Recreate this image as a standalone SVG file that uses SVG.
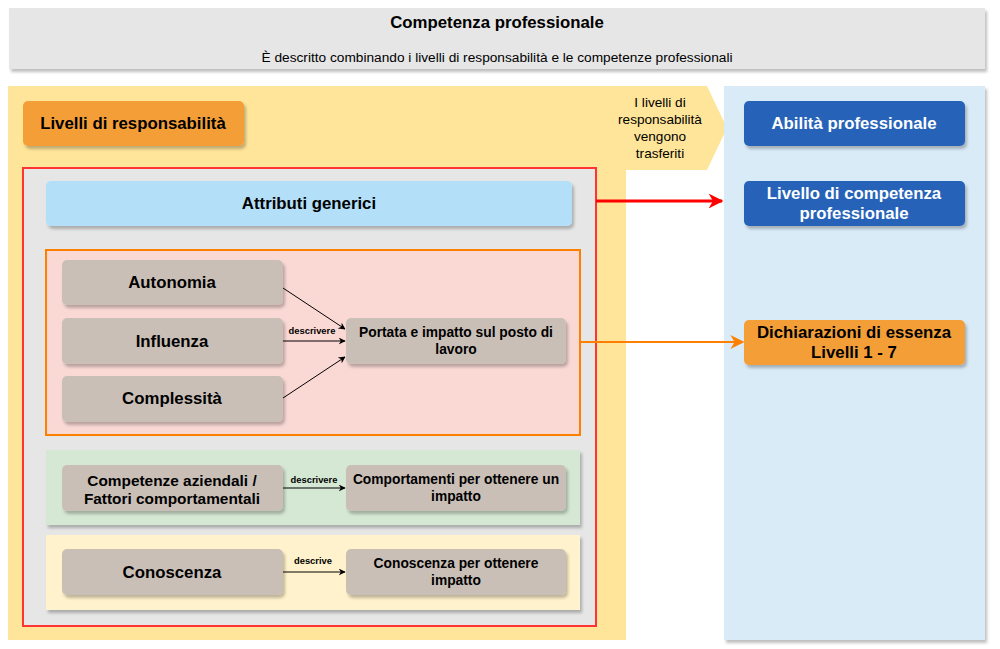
<svg xmlns="http://www.w3.org/2000/svg" width="1000" height="649" viewBox="0 0 1000 649">
<defs>
<filter id="sh" x="-10%" y="-10%" width="130%" height="140%">
<feDropShadow dx="2" dy="3" stdDeviation="1.5" flood-color="#000" flood-opacity="0.25"/>
</filter>
<marker id="ab" viewBox="0 0 10 10" refX="9" refY="5" markerWidth="7" markerHeight="7" orient="auto" markerUnits="userSpaceOnUse"><path d="M0,0 L10,5 L0,10 L3,5 Z" fill="#000"/></marker>
<marker id="ar" viewBox="0 0 10 10" refX="9" refY="5" markerWidth="15" markerHeight="15" orient="auto" markerUnits="userSpaceOnUse"><path d="M0,0 L10,5 L0,10 L3,5 Z" fill="#FF0000"/></marker>
<marker id="ao" viewBox="0 0 10 10" refX="9" refY="5" markerWidth="14" markerHeight="14" orient="auto" markerUnits="userSpaceOnUse"><path d="M0,0 L10,5 L0,10 L3,5 Z" fill="#FF8000"/></marker>
</defs>
<style>
text{font-family:"Liberation Sans",Arial,sans-serif;text-anchor:middle;fill:#000}
.b{font-weight:bold}
.node{fill:#CABFB7;filter:url(#sh)}
.n16{font-size:16.8px;font-weight:bold}
.n15{font-size:15.4px;font-weight:bold}
.n13{font-size:13.8px;font-weight:bold}
.lbl{font-size:9.4px;font-weight:bold}
.w{fill:#fff}
.thin{stroke:#000;stroke-width:1;fill:none;marker-end:url(#ab)}
</style>
<rect width="1000" height="649" fill="#fff"/>

<g id="header">
<rect x="9" y="8" width="976" height="61" fill="#E6E6E6" filter="url(#sh)"/>
<text x="497" y="28" class="b" font-size="16.8">Competenza professionale</text>
<text x="497" y="62" font-size="13.7">È descritto combinando i livelli di responsabilità e le competenze professionali</text>
</g>

<g id="responsibility-area">
<path d="M8,86 L707,86 L727,128 L707,170 L626,170 L626,640 L8,640 Z" fill="#FFE599"/>
<text x="660" y="107" font-size="13.6">I livelli di</text>
<text x="660" y="124" font-size="13.6">responsabilità</text>
<text x="660" y="141" font-size="13.6">vengono</text>
<text x="660" y="158" font-size="13.6">trasferiti</text>
</g>

<g id="skills-area">
<rect x="724" y="86" width="261" height="554" fill="#DAEBF8" filter="url(#sh)"/>
</g>

<g id="livelli-responsabilita">
<rect x="23" y="101" width="221" height="45" rx="5" fill="#F49E38" filter="url(#sh)"/>
<text x="133" y="129" class="n16">Livelli di responsabilità</text>
</g>

<g id="attributes-container">
<rect x="23" y="168" width="573" height="458" fill="#E6E6E6" stroke="#FF3333" stroke-width="2"/>
</g>

<g id="attributi-generici">
<rect x="46" y="181" width="526" height="45" rx="5" fill="#B4DFF8" filter="url(#sh)"/>
<text x="309" y="209" class="n16">Attributi generici</text>
</g>

<g id="impact-group">
<rect x="46" y="250" width="534" height="185" fill="#FAD9D5" stroke="#FF8000" stroke-width="2"/>
</g>

<g id="autonomia">
<rect x="62" y="260" width="221" height="45" rx="5" class="node"/>
<text x="172" y="288" class="n16">Autonomia</text>
</g>
<g id="influenza">
<rect x="62" y="318" width="221" height="46" rx="5" class="node"/>
<text x="172" y="347" class="n16">Influenza</text>
</g>
<g id="complessita">
<rect x="62" y="376" width="221" height="46" rx="5" class="node"/>
<text x="172" y="404" class="n16">Complessità</text>
</g>
<g id="portata">
<rect x="346" y="318" width="220" height="46" rx="5" class="node"/>
<text x="456" y="337" class="n13">Portata e impatto sul posto di</text>
<text x="456" y="354" class="n13">lavoro</text>
</g>

<g id="behaviour-group">
<rect x="46" y="450" width="534" height="75" fill="#D5E8D4" filter="url(#sh)"/>
</g>
<g id="competenze-aziendali">
<rect x="62" y="465" width="221" height="46" rx="5" class="node"/>
<text x="172" y="486" class="n15">Competenze aziendali /</text>
<text x="172" y="504" class="n15">Fattori comportamentali</text>
</g>
<g id="comportamenti">
<rect x="346" y="465" width="220" height="46" rx="5" class="node"/>
<text x="456" y="484" class="n13">Comportamenti per ottenere un</text>
<text x="456" y="501" class="n13">impatto</text>
</g>

<g id="knowledge-group">
<rect x="46" y="535" width="534" height="75" fill="#FFF2CC" filter="url(#sh)"/>
</g>
<g id="conoscenza">
<rect x="62" y="549" width="221" height="46" rx="5" class="node"/>
<text x="172" y="578" class="n16">Conoscenza</text>
</g>
<g id="conoscenza-impatto">
<rect x="346" y="549" width="220" height="46" rx="5" class="node"/>
<text x="456" y="568" class="n13">Conoscenza per ottenere</text>
<text x="456" y="585" class="n13">impatto</text>
</g>

<g id="abilita-professionale">
<rect x="744" y="101" width="221" height="45" rx="5" fill="#2864B8" filter="url(#sh)"/>
<text x="854" y="129" class="n16 w">Abilità professionale</text>
</g>
<g id="livello-competenza">
<rect x="744" y="181" width="221" height="45" rx="5" fill="#2864B8" filter="url(#sh)"/>
<text x="854" y="199" class="n16 w">Livello di competenza</text>
<text x="854" y="219" class="n16 w">professionale</text>
</g>
<g id="dichiarazioni">
<rect x="744" y="320" width="221" height="45" rx="5" fill="#F49E38" filter="url(#sh)"/>
<text x="854" y="338" class="n16">Dichiarazioni di essenza</text>
<text x="854" y="358" class="n16">Livelli 1 - 7</text>
</g>

<g id="connectors">
<line x1="283" y1="288" x2="345" y2="329" class="thin"/>
<line x1="283" y1="341" x2="345" y2="341" class="thin"/>
<line x1="283" y1="398" x2="345" y2="357" class="thin"/>
<text x="312" y="334" class="lbl">descrivere</text>
<line x1="283" y1="488" x2="345" y2="488" class="thin"/>
<text x="314" y="483" class="lbl">descrivere</text>
<line x1="283" y1="572" x2="345" y2="572" class="thin"/>
<text x="313" y="564" class="lbl">descrive</text>
<line x1="596" y1="201" x2="722" y2="201" stroke="#FF0000" stroke-width="3" marker-end="url(#ar)"/>
<line x1="580" y1="342" x2="743" y2="342" stroke="#FF8000" stroke-width="2" marker-end="url(#ao)"/>
</g>
</svg>
